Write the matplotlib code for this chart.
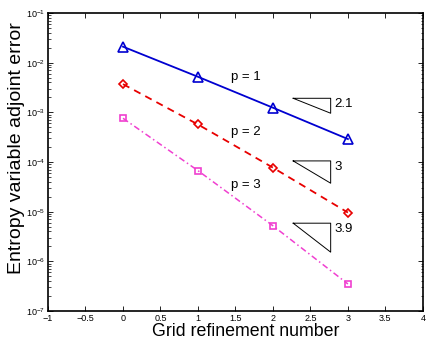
import matplotlib
matplotlib.use("Agg")
import matplotlib.pyplot as plt
import numpy as np

plt.rcParams['font.family'] = ['Liberation Sans', 'DejaVu Sans']

refinement = [0, 1, 2, 3]
err_p1 = [2.1e-2, 5.2e-3, 1.24e-3, 2.9e-4]
err_p2 = [3.7e-3, 5.7e-4, 7.7e-5, 9.6e-6]
err_p3 = [7.6e-4, 6.7e-5, 5.2e-6, 3.5e-7]
rates = ["2.1", "3", "3.9"]
order_labels = ["p = 1", "p = 2", "p = 3"]

fig = plt.figure(figsize=(4.26, 3.39), dpi=100)
ax = fig.add_axes([0.1127, 0.0826, 0.880, 0.879])

ax.semilogy(refinement, err_p1, '-', color='#0000d0', lw=1.3, marker='^',
            mfc='none', mec='#0000d0', ms=6.5, mew=1.2)
ax.semilogy(refinement, err_p2, '--', color='#e80000', lw=1.3, marker='D',
            mfc='none', mec='#e80000', ms=4.5, mew=1.2, dashes=(4, 3))
ax.semilogy(refinement, err_p3, '-.', color='#f040d0', lw=1.1, marker='s',
            mfc='none', mec='#f040d0', ms=4.5, mew=1.2, dashes=(4, 2, 1, 2))

# slope triangles
tri = [(2.27, 2.77, 10**-2.717, 10**-3.018),
       (2.27, 2.77, 10**-3.978, 10**-4.427),
       (2.27, 2.77, 10**-5.232, 10**-5.815)]
for (x0, x1, ytop, ybot), r in zip(tri, rates):
    ax.plot([x0, x1, x1, x0], [ytop, ytop, ybot, ytop], color='black', lw=0.7)
    ax.text(x1 + 0.05, ytop * 10**-0.12, r, fontsize=9.5, va='center', ha='left')

label_y = [10**-2.29, 10**-3.39, 10**-4.46]
for ly, lab in zip(label_y, order_labels):
    ax.text(1.64, ly, lab, fontsize=9.5, ha='center', va='center')

ax.set_xlim(-1, 4)
ax.set_ylim(1e-7, 1e-1)
ax.set_xticks(np.arange(-1, 4.01, 0.5))
ax.set_xticklabels(['\u22121', '\u22120.5', '0', '0.5', '1', '1.5', '2', '2.5', '3', '3.5', '4'])
ax.tick_params(which='both', direction='in', top=True, right=True, labelsize=6.5)
ax.tick_params(which='major', length=3.5, width=0.6)
ax.tick_params(which='minor', length=1.8, width=0.5)
ax.tick_params(axis='x', pad=2)
ax.tick_params(axis='y', pad=2)
for s in ax.spines.values():
    s.set_linewidth(1.2)

ax.set_xlabel('Grid refinement number', fontsize=12.8)
ax.set_ylabel('Entropy variable adjoint error', fontsize=14)
ax.xaxis.set_label_coords(0.528, -0.040)
ax.yaxis.set_label_coords(-0.062, 0.547)

fig.savefig('out.png', dpi=100)
